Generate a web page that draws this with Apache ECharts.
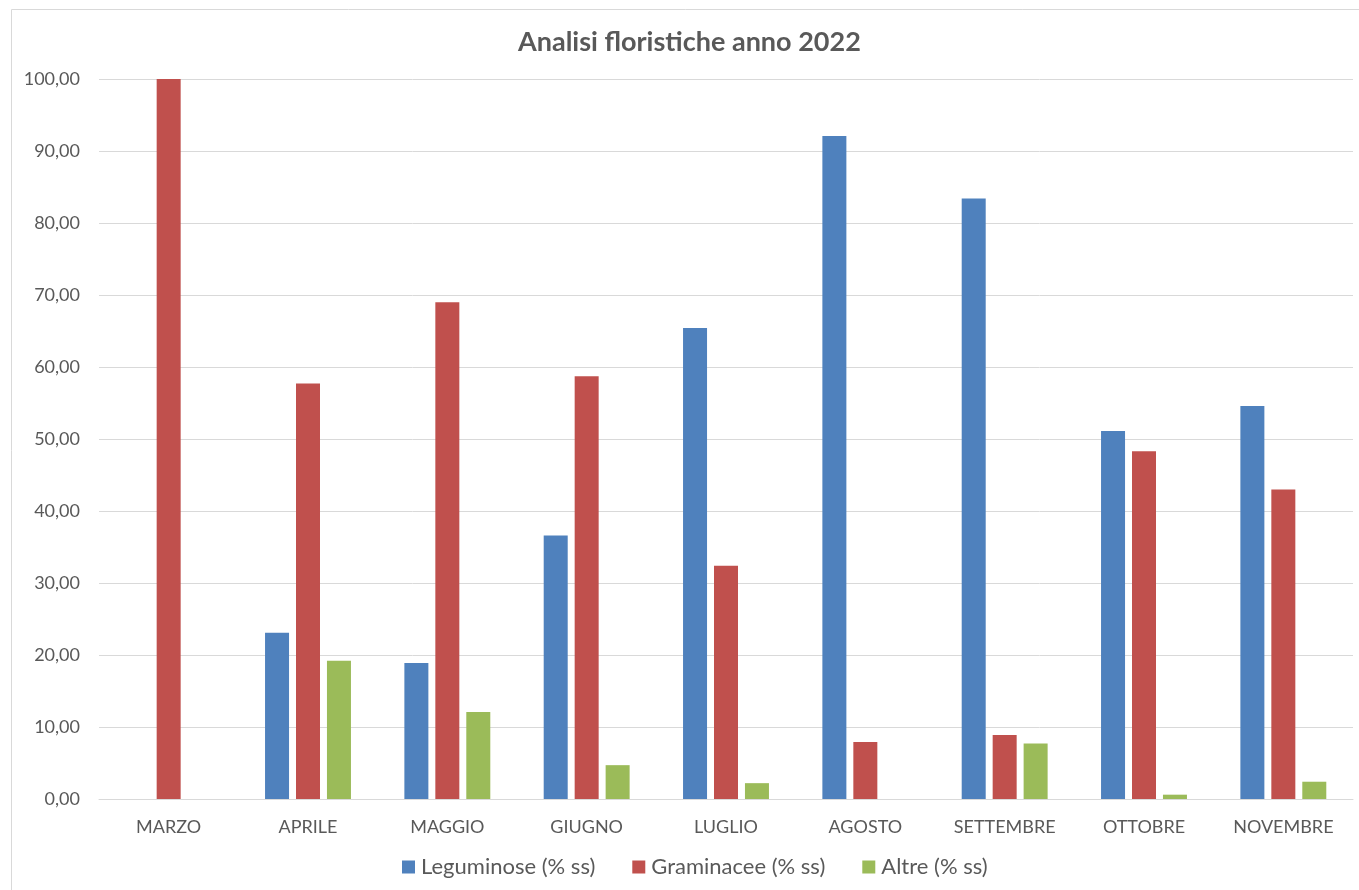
<!DOCTYPE html>
<html>
<head>
<meta charset="utf-8">
<script src="https://cdn.jsdelivr.net/npm/echarts@6/dist/echarts.min.js"></script>
<style>
html,body{margin:0;padding:0;background:#fff;}
#chart{width:1359px;height:890px;}
</style>
</head>
<body>
<div id="chart"></div>
<script>
const categories = ['MARZO','APRILE','MAGGIO','GIUGNO','LUGLIO','AGOSTO','SETTEMBRE','OTTOBRE','NOVEMBRE'];
const leguminose = [0, 23.1, 18.9, 36.6, 65.4, 92.1, 83.4, 51.1, 54.6];
const graminacee = [100, 57.7, 69.0, 58.7, 32.4, 7.9, 8.9, 48.3, 43.0];
const altre = [0, 19.2, 12.1, 4.7, 2.2, 0, 7.7, 0.6, 2.4];
const seriesNames = ['Leguminose (% ss)', 'Graminacee (% ss)', 'Altre (% ss)'];

const font = 'Lato, "Liberation Sans", sans-serif';
const chart = echarts.init(document.getElementById('chart'));
chart.setOption({
  animation: false,
  color: ['#4F81BD', '#C0504D', '#9BBB59'],
  textStyle: { fontFamily: font },
  graphic: [{
    type: 'rect',
    shape: { x: 11.5, y: 9.5, width: 1400, height: 1000 },
    style: { fill: 'none', stroke: '#d9d9d9', lineWidth: 1 },
    silent: true
  }],
  title: {
    text: 'Analisi floristiche anno 2022',
    left: 513,
    top: 24,
    textStyle: { fontFamily: font, fontSize: 27, fontWeight: 'bold', color: '#595959' }
  },
  legend: {
    top: 851,
    left: 397,
    itemWidth: 13,
    itemHeight: 13,
    itemGap: 37,
    icon: 'rect',
    textStyle: { fontFamily: font, fontSize: 22, color: '#595959', padding: [0, 0, 0, 1] },
    data: seriesNames
  },
  grid: { left: 99, right: 6, top: 79, bottom: 91, containLabel: false },
  xAxis: {
    type: 'category',
    data: categories,
    axisLine: { lineStyle: { color: '#d9d9d9', width: 1 } },
    axisTick: { show: false },
    axisLabel: { color: '#595959', fontSize: 18, margin: 19, fontFamily: font }
  },
  yAxis: {
    type: 'value',
    min: 0,
    max: 100,
    interval: 10,
    axisLine: { show: false },
    axisTick: { show: false },
    splitLine: { lineStyle: { color: '#d9d9d9', width: 1 } },
    axisLabel: {
      color: '#595959', fontSize: 18, margin: 19, fontFamily: font,
      formatter: v => v.toFixed(2).replace('.', ',')
    }
  },
  series: [
    { name: seriesNames[0], type: 'bar', data: leguminose, barWidth: 24, barGap: '29%' },
    { name: seriesNames[1], type: 'bar', data: graminacee, barWidth: 24, barGap: '29%' },
    { name: seriesNames[2], type: 'bar', data: altre, barWidth: 24, barGap: '29%' }
  ]
});
</script>
</body>
</html>
